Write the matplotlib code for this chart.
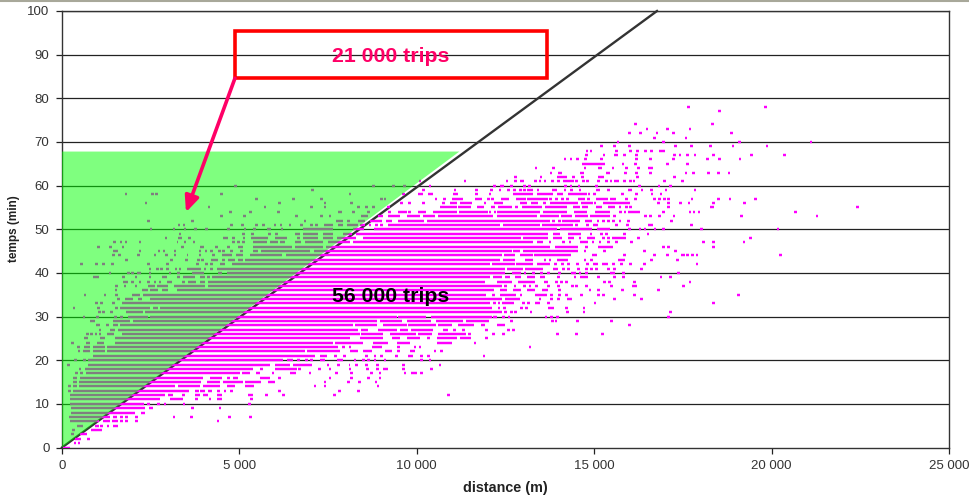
import matplotlib
matplotlib.use("Agg")
import matplotlib.pyplot as plt
from matplotlib.lines import Line2D
from matplotlib.patches import Rectangle

plt.rcParams["font.family"] = ["Liberation Sans", "DejaVu Sans"]

# trips per minute row: a number is one trip distance (m), a pair is a run of trips
rows_00_12 = {
    0: [(30, 230)],
    1: [370, 480],
    2: [(370, 525), 740],
    3: [300, (510, 700)],
    4: [320, (810, 1120)],
    5: [(430, 600), (930, 1050), 1120, 1300, (1450, 1590)],
    6: [(225, 1050), (1160, 1350), 1450, 1540, 1680, 1820, 2090, 4400],
    7: [(210, 1350), (1430, 1540), 1680, 1820, 2090, 3155, 3650, 4730, 5315],
    8: [(245, 2060), (2240, 2340)],
    9: [(245, 2340), (2460, 2570), 3670, 4450],
    10: [(225, 2300), 2430, 2715, 2900, 3440, 5280],
    11: [(225, 2760), (3040, 3420), (3750, 3840), 4170, (4360, 4500), (5300, 5390)],
    12: [(225, 2900), (3000, 3135), 3420, (3750, 3890), (3980, 4120), (4360, 4500), (5250, 5390),
         5765, (6190, 6280), 7690, 10900],
}
rows_13_25 = {
    13: [210, (300, 3590), (3750, 3850), (3890, 4030), (4120, 4220), (4360, 4450), 4590, 4780, 6140, 7830, 8350],
    14: [210, (300, 410), (490, 3180), (3280, 3890), (3980, 4450), (4640, 4890), (5150, 5420), 7130, 7410, 8910],
    15: [(300, 410), (490, 3930), (4075, 4450), (4540, 5110), (5150, 5620), (5810, 6000), 7410, 8070, 8380, 8850],
    16: [(320, 430), (510, 3980), (4170, 4500), 4690, (4830, 4970), (5580, 5860), 6140, 7550, 8160, 8630, 8960],
    17: [410, (510, 600), (680, 5015), (5060, 5300), (5480, 5570), 5950, 6470, 6560, 6990, 7740, 8160, 8730, 8960,
         9670, (9850, 10000), 10130],
    18: [510, (650, 5390), (5580, 5670), (6000, 6610), 6700, 7250, 7550, 8120, 8610, 8890, (9050, 9200), 9620, 10420],
    19: [180, (740, 5860), (6000, 6420), (6520, 7040), 7500, (7740, 7830), (8090, 8120), 8300, 8590, 8890, 9620, 10650],
    20: [(340, 410), (580, 680), (740, 6240), (6330, 6520), (6610, 6700), 6900, 7040, (7270, 7410), (7740, 7930),
         8260, 8490, 8630, 8820, 9100, 10130, 10370],
    21: [(880, 7130), (7270, 7460), 7700, 7970, (8540, 8630), 8820, 9010, 9430, (9760, 9900), 10130, 10320, 11890],
    22: [(460, 510), (600, 790), (860, 1210), (1260, 6850), (6900, 7830), (8120, 8350), (8490, 8730), (9100, 9290),
         9480, (9810, 9950), 10510, 10700],
    23: [(410, 510), (620, 790), (860, 1210), (1260, 7790), 7930, 8120, (8730, 9010), 9480, 9950, 10090, 13190],
    24: [300, (680, 790), (1000, 1180), (1490, 7650), (7700, 8490), (8770, 9200), (9430, 9810), (10560, 10980), 11640],
    25: [(620, 740), (1070, 1210), (1490, 8120), (8400, 9050), (9290, 9520), (9710, 10090), 10320, (10560, 11120),
         (11220, 11540), 11970],
}
rows_26_39 = {
    26: [715, 835, 960, 1070, (1260, 1465), (1680, 8400), (8440, 9050), (9240, 9990), (10040, 10420), (10600, 11400),
         (11450, 11540), (12110, 12200), 12440, 13970, 14500, 15240],
    27: [1070, (1350, 1490), (1590, 8350), (8440, 8630), (8910, 9430), (9520, 9760), (9850, 10460), (10740, 10880),
         11070, 11310, 11970, 12580, 12720],
    28: [(960, 1070), (1240, 1330), (1450, 1590), (1630, 8210), (8260, 8870), (9050, 9710), (9760, 10540),
         (10590, 11000), (11150, 11600), (11810, 11920), (12250, 12480), 15990],
    29: [(790, 930), (1450, 1920), (2000, 8870), (8960, 9570), (9710, 10400), (10540, 11300), (11400, 12030),
         12670, 13820, 13920, 14530, 15490],
    30: [620, 1000, 1500, 1680, (1870, 2430), (2480, 9450), (9480, 10260), (10400, 12110),
         (12150, 12250), 12440, 12600, 13640, 13800, 13970, 17090],
    31: [1050, 1165, 1400, (1800, 2290), (2340, 12390), 12500, 12670, 12790, 13220, 14250,
         14710, 17160],
    32: [340, 1020, 1540, (1630, 2480), (2570, 2715), (2760, 12110), (12280, 12345), 12470, 12950,
         13100, (13710, 13870), 14220, 14710],
    33: [980, 1120, 1450, (1680, 12060), 12185, 12320, (12410, 12750), 13000, 13140, (13330, 13470),
         13710, 15020, 18370],
    34: [(1540, 1630), (1775, 1920), 1960, (2150, 2250), (2480, 12390), (12500, 12910), 13470, (13750, 13850), 13990,
         (14220, 14380), 15570, 16340],
    35: [650, 1210, (1490, 1590), (1960, 2200), (2290, 11960), 12160, (12340, 12810), 12940, (13330, 13660),
         13800, 14030, 14220, 14650, 15130, 15260, 16130, 19060],
    36: [1520, (2245, 2430), (2480, 2715), (2810, 3000), (3230, 12180), (12340, 12530), (12720, 12940), (13120, 13330),
         (13540, 13690), 14030, 14880, 15130, 15790, 16810],
    37: [1540, 1775, 2085, (2430, 2620), (2670, 3000), (3155, 4030), (4120, 12390), 12500, 12770, 13030, 13190, 13380,
         13710, 13990, 14380, 14500, 14790, 15490, (16070, 16200), 17510],
    38: [(1730, 1870), 1990, 2200, 2430, 2620, 2760, (2950, 3090), 3420, (3560, 3790), (3890, 4030), (4120, 11920),
         (12250, 12670), (12860, 13330), (13590, 13710), 13940, 14080, 14220, 15300, 15440, 16130, 17700],
    39: [(880, 1050), 1730, 2085, 2480, (2810, 2950), 3280, (3420, 3750), (3890, 4030), 4120, (4240, 12060),
         (12160, 12390), (12480, 12630), (12770, 12950), (13100, 13330), (13470, 13610), 13990, 14460, (14600, 14830),
         15130, 15580, 15820, 16880, 17160],
}
rows_40_50 = {
    40: [1350, 1870, 1990, (2100, 2240), 2480, 3040, 3280, (3650, 4000), (4400, 4500), (4660, 12500), (12670, 12950),
         13050, 13280, 13520, 13710, 14030, (14360, 14500), 14600, 14790, (15440, 15580), 15820, 17370],
    41: [2480, 2690, 2810, 2970, 3210, 3325, (3530, 3930), 4030, 4215, (4360, 12480), (12530, 13000), (13050, 13570),
         (13850, 13990), 14130, 14270, 14550, 14790, 14930, 15070, (15350, 15440), 15580, 16340],
    42: [555, 980, 1165, 1420, 2430, 2970, 3810, 4075, 4215, (4450, 4590), (4780, 12060), (12130, 12770),
         (12810, 13280), (13380, 13750), 13910, 14100, 14270, 14530, 14810, (14970, 15110), (15210, 15400), 15540,
         15770, 16030, 16410, 17900],
    43: [1820, (3040, 3140), (3470, 3560), 3840, 3960, (4190, 4400), 4545, (4690, 4880), (4970, 5110), (5160, 12340),
         (12440, 12770), (13050, 13280), 13610, 13750, (13940, 14270), 14740, 14930, (15680, 15870), 16620, 17340],
    44: [1445, 1630, 2150, 2620, 2950, 3185, (3510, 3560), 3890, 4265, (4500, 4800), (4900, 5100), (5300, 6190),
         (6300, 12390), (12470, 12770), (12910, 13280), (13300, 14360), (14930, 15070), 15850, 16690, 17060,
         (17440, 17560), 17620, 17770, 17900, 20250],
    45: [(1445, 1590), 2200, 2730, 2875, 3185, 3890, 4055, 4215, 4430, 4545, 4780, (5015, 5110), (5390, 5530),
         (5600, 7000), (7100, 12670), (12720, 12910), (13000, 14550), 14740, 15300, 16410, 17300],
    46: [1020, 1370, (1680, 1750), 3400, (3890, 4000), 4360, (4640, 4730), (4970, 5110), (5390, 6470), (6570, 7360),
         (7450, 13750), (13890, 14550), (14740, 14830), (15110, 15540), 16950, 17090, 18370],
    47: [1475, 1660, 1800, 2200, (3230, 3280), 3465, 3720, 4825, 4970, 5110, (5370, 5770), (5860, 6100), (6140, 6280),
         (6570, 6750), (6850, 7360), (7500, 8110), (8200, 13280), (13380, 13570), 13750, 14130, 14320, (14600, 14830),
         14970, 15160, 15400, 15630, 16050, 18090, 18370, 19220],
    48: [(2900, 2970), (3280, 3370), 3590, (4545, 4685), 4825, (5110, 5155), (5340, 5800), (6000, 6340), (6620, 6720),
         (6800, 7220), (7360, 7650), (7750, 8300), (8490, 12940), (13000, 13710), (13850, 14080), (14270, 14440),
         14600, (14790, 15020), 15260, 15400, (15490, 15910), 16240, 19410],
    49: [3325, 5110, 5360, (5820, 5880), (6000, 6100), (6570, 6710), (6800, 7220), (7360, 7650), (7930, 8160),
         (8300, 13710), (13850, 14030), (14270, 14640), 14910, 15210, 15350, 15850, 16520],
    50: [2510, 3155, 3465, 3755, 4075, 4685, 5155, 5435, (5790, 5890), 6200, (6800, 7650), (8200, 8500), (8800, 13940),
         (14030, 14930), (15070, 15440), 15990, 16290, 16430, 16710, 16950, 18020, 20180],
}
rows_51_62 = {
    51: [3300, 3440, 4780, 5080, 5480, 5670, 6000, 6170, 6430, 6750, 7040, 7180, (7380, 7650), (7790, 7930),
         (8020, 8350), (8400, 8540), 8680, 8870, 9010, (9200, 12340), (12440, 13470), (13520, 14410), 14500, 14810,
         (14970, 15110), 15630, 15940, (16520, 16660), 17740],
    52: [2440, 3680, 6850, (7720, 7930), 8070, (8350, 8540), (8680, 9010), (9130, 9290), (9480, 10200), (10300, 13750),
         (13800, 13890), 14030, (14080, 14600), (14740, 14930), 15110, 15260, 15400, 15540, 15730, 15960, 17180],
    53: [4500, 5135, 6610, 7320, 7550, (8440, 8630), (8910, 9060), (9200, 9520), (9720, 10100), (10180, 10500),
         (10600, 12160), (12250, 13380), (13470, 14010), (14060, 14380), (14460, 14830), (14880, 15440), 15580, 16450,
         16590, 16850, 17250, 19150, 21280],
    54: [4750, 5315, 6100, (7790, 7880), 8210, 8630, 9240, (9480, 9710), 9800, (10040, 10250), (10450, 11130),
         (11200, 12000), 12060, 12200, (12250, 13470), (13570, 14220), (14440, 14790), (15020, 15440), 15740, 15870,
         (15960, 16290), 16950, 17700, 17810, 17950, 20680],
    55: [4140, 5720, 7040, 7410, 8350, 8580, 8770, 9200, (10650, 11120), (11170, 11530), (11700, 11880),
         (12090, 12200), (12300, 12670), 12810, (12970, 13520), (13610, 14220), (14410, 14600), (14650, 14830),
         (15040, 15210), (15400, 15580), 15730, 15910, 16030, 17090, (18260, 18370), 22420],
    56: [2370, 6140, 7410, 8160, (9520, 9620), 9790, (10135, 10230), 10750, (10930, 11120), (11220, 11550), 11920,
         (12185, 12440), (12910, 13100), (13220, 13420), 13590, (13750, 14550), (14620, 14970), 15020, (15260, 16010),
         16810, 17090, 17440, 17670, 18370, 19230],
    57: [5490, 6520, 7320, 9010, 9100, 10540, 10790, (11000, 11300), (11650, 11850), 12020, 12130, (12370, 12600),
         (12810, 13070), (13120, 13710), 13770, 13940, 14100, 14240, (14550, 14740), 14830, (15040, 15400), 15490,
         15580, 15910, 16170, 16690, 16850, 16990, 17100, 17760, 18510, 18830, 19540],
    58: [1800, 2545, 2660, 4500, 8115, 9620, (10040, 10180), (10320, 10460), (11030, 11170), 11690, 12060,
         (12720, 13280), (13400, 13850), (13940, 14130), (14270, 14790), 14850, 15000, 15800, 16200, (16590, 16660),
         16880],
    59: [7060, 10180, 11075, 11685, 12110, 12345, 12580, 12750, (12880, 12970), 13030, 13140, 13240, 13420,
         (13800, 13940), 14180, 14360, 14600, (15040, 15160), 15410, (15940, 16070), 16350, 16620, 17020, 17840],
    60: [4890, 8770, 9340, 9660, 10370, 12185, (12345, 12470), (12630, 12720), 13030, 13170, 14200, 14350, 14570,
         (15020, 15110), 16270, 16830, 17160],
    61: [10090, 11360, 12540, 12790, (12910, 13030), 13350, 13470, 13610, 13820, 13990, (14110, 14420), 14500,
         (14650, 14740), 14810, 15130, 15350, 15470, (15570, 15700), 15850, 16020, 16120, 16980, 17480],
    62: [12790, 13500, (13940, 14220), 14420, 14670, (15110, 15270), 16230, 17260],
}
rows_63_78 = {
    63: [13780, (13970, 14100), (14590, 14700), (15320, 15450), 15880, 16200, 16590, 17590, 17800, 18230, 18510, 18800],
    64: [13360, 13860, 14740, (15110, 15230), 15530, (15870, 15960), (16200, 16280), (16520, 16650)],
    65: [(14670, 15300), 15810, 16170, 17060, 17620],
    66: [14180, 14350, 14530, 14750, 15210, 16200, 16590, 17230, 18190, 18540, 19110],
    67: [14790, 15280, (15570, 15680), 15850, 16200, 17270, 17420, 17620, 17840, 18370, 19430, 20360],
    68: [14800, 14910, 15630, 16020, 16220, 16450, 16620, (16820, 16990)],
    69: [15200, 15580, 15990, 17300, 17740, 18270, 18910, 19870],
    70: [15670, 16950, 19090, 21110],
    71: [16700, 17590],
    72: [15990, 16310, 16770, 17230, 18860],
    73: [16490, 17060, 17700],
    74: [16170, 18340],
    77: [18540],
    78: [17660, 19820],
}

speed_limit_d = [0, 16770]
speed_limit_t = [0, 100]
green_d = [0, 11200, 0]
green_t = [0, 67.8, 67.8]
y_ticks = list(range(0, 101, 10))
x_ticks = [0, 5000, 10000, 15000, 20000, 25000]
x_labels = ["0", "5 000", "10 000", "15 000", "20 000", "25 000"]

W, H = 970, 497
fig = plt.figure(figsize=(W / 100, H / 100), dpi=100)
ax = fig.add_axes([62 / W, 1 - 447.5 / H, (949 - 62) / W, (447.5 - 11) / H])
ax.set_xlim(0, 25000)
ax.set_ylim(0, 100)

for y in y_ticks[1:]:
    ax.axhline(y, color="#222222", lw=0.9, zorder=1)

ax.plot(speed_limit_d, speed_limit_t, color="#333333", lw=1.7, zorder=2, clip_on=False)

# one pixel is about 28 m
half_dot = 38
for rows in [rows_00_12, rows_13_25, rows_26_39, rows_40_50, rows_51_62, rows_63_78]:
    for minute, trips in rows.items():
        for trip in trips:
            if isinstance(trip, tuple):
                start, end = trip
            else:
                start, end = trip - half_dot, trip + half_dot
            ax.plot([start, end], [minute, minute], color="#FF00FF", lw=1.75,
                    solid_capstyle="butt", zorder=3)

# green overlay at half strength turns the magenta points grey
ax.fill(green_d, green_t, color="#00FF00", alpha=0.5, lw=0, zorder=4)

ax.add_patch(Rectangle((4875, 84.6), 8790, 10.9, fill=False, edgecolor="#FF0000", lw=2.6, zorder=5))
ax.annotate("", xy=(3494, 53.9), xytext=(4875, 84.6), zorder=6,
            arrowprops=dict(arrowstyle="-|>,head_length=0.95,head_width=0.42", color="#FF0066",
                            lw=2.6, shrinkA=0, shrinkB=0))
ax.text(9270, 89.6, "21 000 trips", color="#FF0066", fontsize=15.3, fontweight="bold",
        ha="center", va="center", zorder=7)
ax.text(9260, 34.6, "56 000 trips", color="black", fontsize=15.3, fontweight="bold",
        ha="center", va="center", zorder=7)

ax.set_xticks(x_ticks)
ax.set_xticklabels(x_labels)
ax.set_yticks(y_ticks)
ax.tick_params(length=4, width=0.9, color="#222222", labelsize=9.5, labelcolor="#333333", pad=5)
for side in ["left", "bottom", "top", "right"]:
    ax.spines[side].set_linewidth(1.0)
    ax.spines[side].set_color("#333333")

fig.text(505 / W, 1 - 488 / H, "distance (m)", fontsize=10.4, fontweight="bold", color="#222222",
         ha="center", va="center")
fig.text(14 / W, 1 - 229 / H, "temps (min)", fontsize=8.5, fontweight="bold", color="#222222",
         rotation=90, ha="center", va="center")

# window edge left over from the screenshot
fig.add_artist(Line2D([0, 1], [0.998, 0.998], color="#A8A89A", lw=1.5))

fig.savefig("out.png", dpi=100)
